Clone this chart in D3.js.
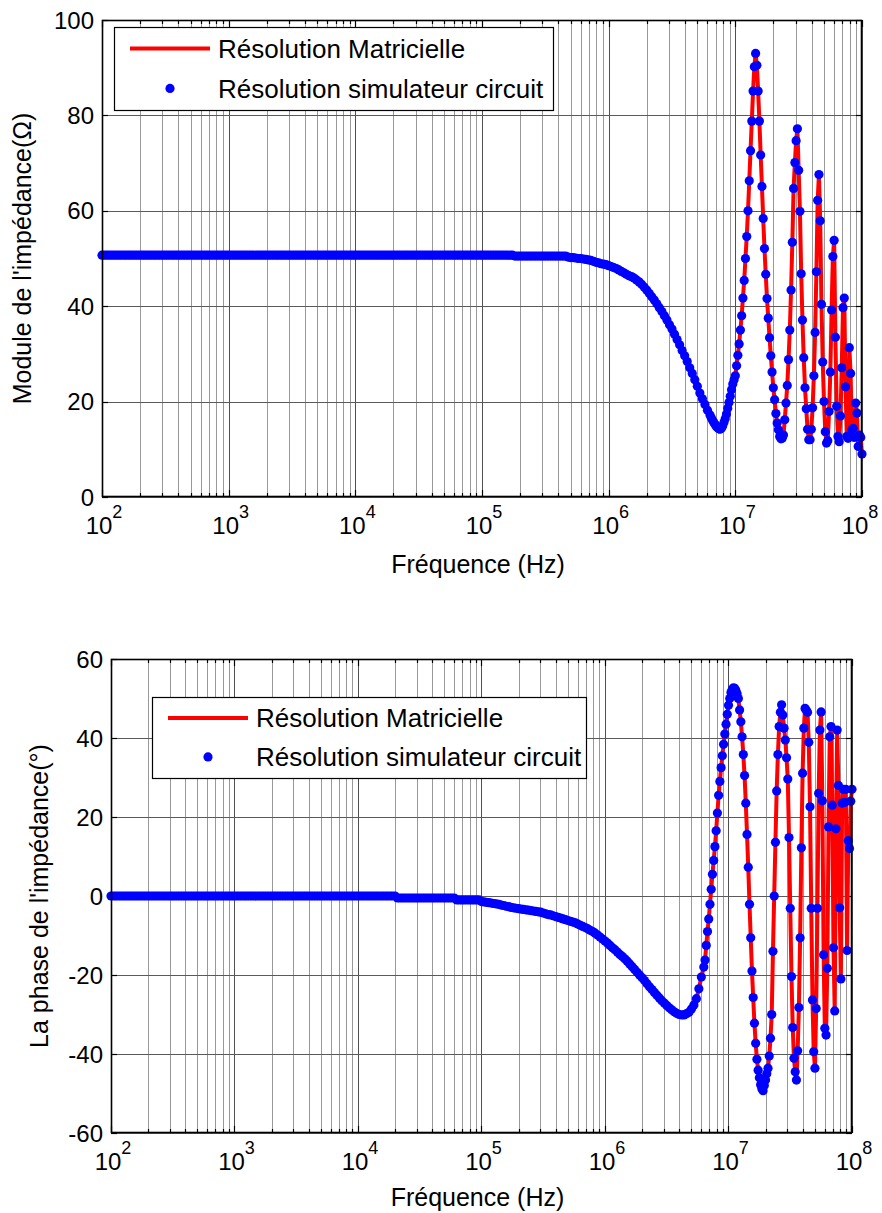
<!DOCTYPE html>
<html><head><meta charset="utf-8">
<script src="https://cdn.jsdelivr.net/npm/d3@7/dist/d3.min.js"></script>
<style>
body{margin:0;background:#fff}
svg{display:block}
text{font-family:"Liberation Sans",Arial,Helvetica,sans-serif;fill:#000}
</style>
</head><body>
<svg id="chart" width="882" height="1213"></svg>
<script>
// ---- Frequency sweep (log10 of frequency in Hz) ----
const logFreq = [
2.00,2.02,2.04,2.06,2.08,2.10,2.12,2.14,2.16,2.18,2.20,2.22,2.24,2.26,2.28,2.30,2.32,2.34,2.36,2.38,2.40,2.42,2.44,2.46,2.48,2.50,2.52,2.54,2.56,2.58,2.60,2.62,2.64,2.66,2.68,2.70,2.72,2.74,2.76,2.78,2.80,2.82,2.84,2.86,2.88,2.90,2.92,2.94,2.96,2.98,
3.00,3.02,3.04,3.06,3.08,3.10,3.12,3.14,3.16,3.18,3.20,3.22,3.24,3.26,3.28,3.30,3.32,3.34,3.36,3.38,3.40,3.42,3.44,3.46,3.48,3.50,3.52,3.54,3.56,3.58,3.60,3.62,3.64,3.66,3.68,3.70,3.72,3.74,3.76,3.78,3.80,3.82,3.84,3.86,3.88,3.90,3.92,3.94,3.96,3.98,
4.00,4.02,4.04,4.06,4.08,4.10,4.12,4.14,4.16,4.18,4.20,4.22,4.24,4.26,4.28,4.30,4.32,4.34,4.36,4.38,4.40,4.42,4.44,4.46,4.48,4.50,4.52,4.54,4.56,4.58,4.60,4.62,4.64,4.66,4.68,4.70,4.72,4.74,4.76,4.78,4.80,4.82,4.84,4.86,4.88,4.90,4.92,4.94,4.96,4.98,
5.00,5.02,5.04,5.06,5.08,5.10,5.12,5.14,5.16,5.18,5.20,5.22,5.24,5.26,5.28,5.30,5.32,5.34,5.36,5.38,5.40,5.42,5.44,5.46,5.48,5.50,5.52,5.54,5.56,5.58,5.60,5.62,5.64,5.66,5.68,5.70,5.72,5.74,5.76,5.78,5.80,5.82,5.84,5.86,5.88,5.90,5.92,5.94,5.96,5.98,
6.00,6.02,6.04,6.06,6.08,6.10,6.12,6.14,6.16,6.18,6.20,6.22,6.24,6.26,6.28,6.30,6.32,6.34,6.36,6.38,6.40,6.42,6.44,6.46,6.48,6.50,6.52,6.54,6.56,6.58,6.60,6.62,6.64,6.66,6.68,6.70,6.72,6.74,6.76,6.78,6.80,
6.81,6.82,6.83,6.84,6.85,6.86,6.87,6.88,6.89,6.90,6.91,6.92,6.93,6.94,6.95,6.96,6.97,6.98,6.99,
7.00,7.01,7.02,7.03,7.04,7.05,7.06,7.07,7.08,7.09,7.10,7.11,7.12,7.13,7.14,7.15,7.16,7.17,7.18,7.19,
7.20,7.21,7.22,7.23,7.24,7.25,7.26,7.27,7.28,7.29,7.30,7.31,7.32,7.33,7.34,7.35,7.36,7.37,7.38,7.39,
7.40,7.41,7.42,7.43,7.44,7.45,7.46,7.47,7.48,7.49,7.50,7.51,7.52,7.53,7.54,7.55,7.56,7.57,7.58,7.59,
7.60,7.61,7.62,7.63,7.64,7.65,7.66,7.67,7.68,7.69,7.70,7.71,7.72,7.73,7.74,7.75,7.76,7.77,7.78,7.79,
7.80,7.81,7.82,7.83,7.84,7.85,7.86,7.87,7.88,7.89,7.90,7.91,7.92,7.93,7.94,7.95,7.96,7.97,7.98,7.99,
8.00
];

// ---- Impedance modulus (Ohm); the two methods coincide on the picture ----
const moduleOhm = [
50.7,50.7,50.7,50.7,50.7,50.7,50.7,50.7,50.7,50.7,50.7,50.7,50.7,50.7,50.7,50.7,50.7,50.7,50.7,50.7,50.7,50.7,50.7,50.7,50.7,
50.7,50.7,50.7,50.7,50.7,50.7,50.7,50.7,50.7,50.7,50.7,50.7,50.7,50.7,50.7,50.7,50.7,50.7,50.7,50.7,50.7,50.7,50.7,50.7,50.7,
50.7,50.7,50.7,50.7,50.7,50.7,50.7,50.7,50.7,50.7,50.7,50.7,50.7,50.7,50.7,50.7,50.7,50.7,50.7,50.7,50.7,50.7,50.7,50.7,50.7,
50.7,50.7,50.7,50.7,50.7,50.7,50.7,50.7,50.7,50.7,50.7,50.7,50.7,50.7,50.7,50.7,50.7,50.7,50.7,50.7,50.7,50.7,50.7,50.7,50.7,
50.7,50.7,50.7,50.7,50.7,50.7,50.7,50.7,50.7,50.7,50.7,50.7,50.7,50.7,50.7,50.7,50.7,50.7,50.7,50.7,50.7,50.7,50.7,50.7,50.7,
50.7,50.7,50.7,50.7,50.7,50.7,50.7,50.7,50.7,50.7,50.7,50.7,50.7,50.7,50.7,50.7,50.7,50.7,50.7,50.7,50.7,50.7,50.7,50.7,50.7,
50.7,50.7,50.7,50.7,50.7,50.7,50.7,50.7,50.7,50.7,50.7,50.7,50.7,
50.5,50.5,50.5,50.5,50.5,50.5,50.5,50.5,50.5,50.5,50.5,50.5,50.5,50.5,50.5,50.5,50.5,50.5,50.5,50.5,50.5,
50.3,50.2,50.2,50.1,50.0,50.0,49.9,49.8,49.7,49.6,49.4,49.2,49.1,48.9,48.8,48.7,
48.5,48.3,48.1,47.9,47.6,47.3,47.0,46.7,46.4,46.2,45.9,45.5,45.1,44.6,44.0,43.4,42.7,42.0,41.3,40.5,
39.7,38.9,38.0,37.1,36.1,35.2,34.1,33.0,31.9,30.7,29.6,28.4,27.1,25.9,24.6,23.2,21.8,20.6,19.4,18.2,17.2,
16.6,16.1,15.6,15.2,14.8,14.5,14.3,14.2,14.4,14.9,15.6,16.4,17.4,18.6,19.8,21.1,22.5,23.7,24.6,
25.4,27.5,29.7,32.1,35.0,38.0,41.7,45.4,50.0,54.6,60.0,66.3,72.6,78.8,85.1,90.2,93.0,90.5,85.1,78.8,
71.7,65.1,58.4,52.1,46.7,41.6,37.5,33.4,29.6,26.2,22.9,20.4,17.5,15.5,14.1,12.7,12.2,12.3,13.0,16.2,
19.7,23.4,28.8,35.0,43.4,53.4,64.7,70.1,74.7,77.2,68.5,59.9,46.8,37.1,29.2,22.9,18.5,14.2,12.0,12.0,
14.2,18.7,25.4,34.5,47.2,62.2,67.6,57.9,40.4,28.3,20.0,13.7,11.3,11.8,17.9,26.2,39.2,50.4,53.8,33.5,
19.0,12.7,11.6,17.0,27.1,39.7,41.7,23.1,12.7,12.3,31.3,25.9,14.1,14.4,12.5,19.7,17.6,10.6,13.0,12.5,
9.0
];

// ---- Impedance phase (degrees) ----
const phaseDeg = [
0,0,0,0,0,0,0,0,0,0,0,0,0,0,0,0,0,0,0,0,0,0,0,0,0,0,0,0,0,0,0,0,0,0,0,0,0,0,0,0,0,0,0,0,0,0,0,0,0,0,
0,0,0,0,0,0,0,0,0,0,0,0,0,0,0,0,0,0,0,0,0,0,0,0,0,0,0,0,0,0,0,0,0,0,0,0,0,0,0,0,0,0,0,0,0,0,0,0,0,0,
0,0,0,0,0,0,0,0,0,0,0,0,0,0,0,0,
-0.5,-0.5,-0.5,-0.5,-0.5,-0.5,-0.5,-0.5,-0.5,-0.5,-0.5,-0.5,-0.5,-0.5,-0.5,-0.5,-0.5,-0.5,-0.5,-0.5,-0.5,-0.5,-0.5,-0.5,
-1.0,-1.0,-1.0,-1.0,-1.0,-1.0,-1.0,-1.0,-1.0,-1.0,
-1.4,-1.5,-1.6,-1.7,-1.8,-1.9,-2.0,-2.1,-2.3,-2.4,-2.6,-2.7,-2.9,-3.0,-3.1,-3.2,-3.3,-3.4,-3.5,-3.6,-3.7,-3.8,-3.9,-4.0,-4.1,
-4.3,-4.5,-4.7,-4.8,-5.0,-5.2,-5.4,-5.6,-5.8,-6.0,-6.2,-6.4,-6.6,-6.8,-7.1,-7.4,-7.7,-8.0,-8.3,-8.7,-9.0,-9.4,-9.9,-10.4,-10.9,
-11.4,-11.9,-12.5,-13.1,-13.6,-14.2,-14.8,-15.3,-15.9,-16.5,-17.2,-17.9,-18.6,-19.3,-20.0,-20.7,-21.4,-22.2,-23.0,-23.7,
-24.4,-25.1,-25.8,-26.5,-27.1,-27.7,-28.3,-28.8,-29.3,-29.7,-30.0,-30.1,-30.1,-29.8,-29.4,-28.6,-27.6,-26.0,-23.5,-20.5,-18.0,
-16.2,-12.5,-9.0,-5.8,-2.1,1.7,5.5,9.0,12.5,16.5,21.0,25.5,29.0,32.5,35.5,38.4,41.0,43.5,46.0,
48.3,50.0,51.5,52.3,52.7,52.6,52.0,51.2,50.0,47.1,44.1,40.3,35.8,30.5,23.5,15.6,7.3,-2.1,-10.6,-19.0,
-25.7,-32.2,-37.3,-41.3,-44.1,-46.0,-47.8,-48.8,-49.3,-48.0,-46.6,-45.0,-43.6,-40.5,-36.0,-30.0,-14.0,0.0,13.6,26.6,
35.8,42.9,46.5,48.4,45.8,42.5,39.5,35.0,29.6,14.8,-3.1,-20.4,-33.3,-41.1,-44.5,-46.6,-39.2,-28.2,-10.6,12.2,
31.1,42.5,47.5,47.0,46.5,38.9,22.6,-3.1,-26.3,-39.4,-43.6,-28.5,-3.1,26.0,42.0,46.6,24.1,-14.9,-33.5,-35.2,
-18.3,17.5,40.3,42.9,23.0,-13.1,-29.1,17.0,42.0,28.0,-3.0,-21.0,23.5,27.0,23.7,27.0,-13.8,14.0,12.0,24.0,
27.0
];

const seriesNames = ["Résolution Matricielle", "Résolution simulateur circuit"];
const moduleTicks = [0, 20, 40, 60, 80, 100];
const phaseTicks = [-60, -40, -20, 0, 20, 40, 60];
const decadeTicks = [1e2, 1e3, 1e4, 1e5, 1e6, 1e7, 1e8];
const xLabel = "Fréquence (Hz)";
const moduleLabel = "Module de l'impédance(Ω)";
const phaseLabel = "La phase de l'impédance(°)";

if (logFreq.length !== moduleOhm.length || logFreq.length !== phaseDeg.length) {
  throw new Error("length mismatch " + logFreq.length + " " + moduleOhm.length + " " + phaseDeg.length);
}

const freqHz = logFreq.map(e => Math.pow(10, e));
const svg = d3.select("#chart");
svg.append("rect").attr("width", 882).attr("height", 1213).attr("fill", "#fff");

const crisp = v => Math.round(v) + 0.5;

function drawPanel(p) {
  const x = d3.scaleLog().domain([decadeTicks[0], decadeTicks[decadeTicks.length - 1]]).range([p.left, p.right]);
  const y = d3.scaleLinear().domain([p.yTicks[0], p.yTicks[p.yTicks.length - 1]]).range([p.bottom, p.top]);
  const g = svg.append("g");
  const allTicks = x.ticks();
  const isDecade = v => Math.abs(Math.log10(v) - Math.round(Math.log10(v))) < 1e-9;
  const minor = allTicks.filter(v => !isDecade(v));

  // grid
  g.append("g").selectAll("line").data(minor).join("line")
    .attr("x1", d => crisp(x(d))).attr("x2", d => crisp(x(d)))
    .attr("y1", p.top).attr("y2", p.bottom)
    .attr("stroke", "#999").attr("stroke-width", 1);
  g.append("g").selectAll("line").data(decadeTicks).join("line")
    .attr("x1", d => crisp(x(d))).attr("x2", d => crisp(x(d)))
    .attr("y1", p.top).attr("y2", p.bottom)
    .attr("stroke", "#505050").attr("stroke-width", 1);
  g.append("g").selectAll("line").data(p.yTicks).join("line")
    .attr("x1", p.left).attr("x2", p.right)
    .attr("y1", d => crisp(y(d))).attr("y2", d => crisp(y(d)))
    .attr("stroke", "#5a5a5a").attr("stroke-width", 1);

  // tick marks (inside)
  const tk = g.append("g").attr("stroke", "#000").attr("stroke-width", 1.2);
  [[p.bottom, -1], [p.top, 1]].forEach(([yy, s]) => {
    tk.append("g").selectAll("line").data(minor).join("line")
      .attr("x1", d => crisp(x(d))).attr("x2", d => crisp(x(d)))
      .attr("y1", yy).attr("y2", yy + s * 4);
    tk.append("g").selectAll("line").data(decadeTicks).join("line")
      .attr("x1", d => crisp(x(d))).attr("x2", d => crisp(x(d)))
      .attr("y1", yy).attr("y2", yy + s * 7);
  });
  [[p.left, 1], [p.right, -1]].forEach(([xx, s]) => {
    tk.append("g").selectAll("line").data(p.yTicks).join("line")
      .attr("x1", xx).attr("x2", xx + s * 6)
      .attr("y1", d => crisp(y(d))).attr("y2", d => crisp(y(d)));
  });

  // data: red line (matrix method) and blue dots (circuit simulator)
  const line = d3.line().x((d, i) => x(freqHz[i])).y(d => y(d));
  g.append("path").datum(p.values)
    .attr("d", line).attr("fill", "none")
    .attr("stroke", "#ff0000").attr("stroke-width", 4)
    .attr("stroke-linejoin", "round").attr("stroke-linecap", "round");
  g.append("g").selectAll("circle").data(p.values).join("circle")
    .attr("cx", (d, i) => x(freqHz[i])).attr("cy", d => y(d))
    .attr("r", 4.6).attr("fill", "#0000ff");

  // box
  g.append("rect")
    .attr("x", p.left + 0.5).attr("y", p.top + 0.5)
    .attr("width", p.right - p.left - 1).attr("height", p.bottom - p.top - 1)
    .attr("fill", "none").attr("stroke", "#000").attr("stroke-width", 1.6);

  // y tick labels
  g.append("g").selectAll("text").data(p.yTicks).join("text")
    .attr("x", p.left - 8).attr("y", d => y(d)).attr("dy", "0.36em")
    .attr("text-anchor", "end").attr("font-size", 24)
    .text(d => d);

  // x tick labels 10^n (kept inside the 882 px page)
  const xl = g.append("g").selectAll("text").data(decadeTicks).join("text")
    .attr("x", d => Math.min(x(d) + 2, 860)).attr("y", p.bottom + 37)
    .attr("text-anchor", "middle").attr("font-size", 24);
  xl.append("tspan").text("10");
  xl.append("tspan").attr("dy", -16).attr("font-size", 18).text(d => Math.round(Math.log10(d)));

  // axis titles
  g.append("text").attr("x", (p.left + p.right) / 2 - 4).attr("y", p.xLabelY)
    .attr("text-anchor", "middle").attr("font-size", 25).text(xLabel);
  g.append("text")
    .attr("transform", `translate(${p.yLabelX},${(p.top + p.bottom) / 2}) rotate(-90)`)
    .attr("text-anchor", "middle").attr("font-size", 25).text(p.yLabel);

  // legend
  const L = p.legend;
  const lg = g.append("g");
  lg.append("rect").attr("x", L.x + 0.5).attr("y", L.y + 0.5).attr("width", L.w).attr("height", L.h)
    .attr("fill", "#fff").attr("stroke", "#000").attr("stroke-width", 1.2);
  const r1 = L.y + L.h * 0.26, r2 = L.y + L.h * 0.74;
  lg.append("line").attr("x1", L.x + 16).attr("x2", L.x + 96).attr("y1", r1).attr("y2", r1)
    .attr("stroke", "#ff0000").attr("stroke-width", 4);
  lg.append("circle").attr("cx", L.x + 56).attr("cy", r2).attr("r", 4.6).attr("fill", "#0000ff");
  lg.selectAll("text.lt").data(seriesNames).join("text").attr("class", "lt")
    .attr("x", L.x + 104).attr("y", (d, i) => i ? r2 : r1).attr("dy", "0.36em")
    .attr("font-size", 26).text(d => d);
}

drawPanel({
  left: 102, right: 862, top: 20, bottom: 497,
  yTicks: moduleTicks, values: moduleOhm,
  yLabel: moduleLabel, yLabelX: 31, xLabelY: 573,
  legend: { x: 114, y: 27, w: 439, h: 83 }
});
drawPanel({
  left: 111, right: 852, top: 659, bottom: 1133,
  yTicks: phaseTicks, values: phaseDeg,
  yLabel: phaseLabel, yLabelX: 48, xLabelY: 1206,
  legend: { x: 152, y: 697, w: 434, h: 81 }
});
</script>
</body></html>
